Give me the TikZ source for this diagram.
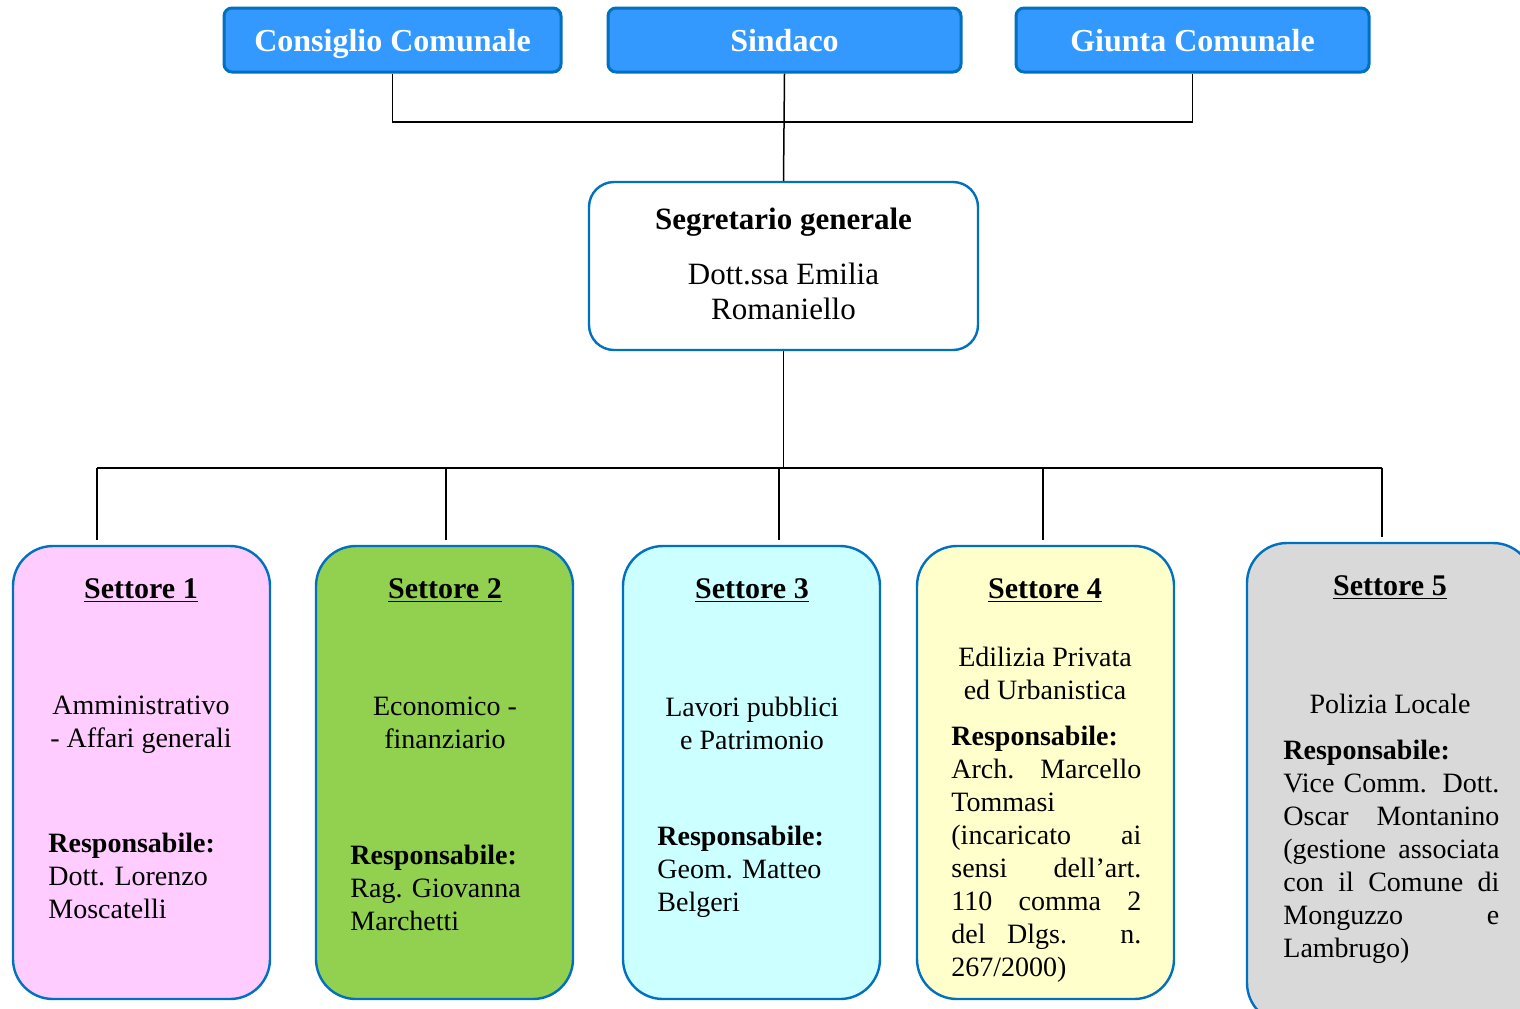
\documentclass[tikz,border=0pt]{standalone}
\usepackage{fontspec}
\setmainfont{Liberation Serif}
\usetikzlibrary{positioning}
\definecolor{bordo}{HTML}{0070C0}
\definecolor{azzurro}{HTML}{3399FF}
\definecolor{rosa}{HTML}{FFCCFF}
\definecolor{verde}{HTML}{92D050}
\definecolor{celeste}{HTML}{CCFFFF}
\definecolor{giallino}{HTML}{FFFFCC}
\definecolor{grigio}{HTML}{D9D9D9}
% one justified line of a fixed width
\newcommand{\giust}[2]{\makebox[#1][s]{#2}}
\tikzset{
    %Define style for the top boxes
    organo/.style={
           rectangle,
           rounded corners=4pt,
           draw=bordo, line width=1.5pt,
           fill=azzurro,
           text=white,
           text height=13pt, text depth=1.4pt,
           minimum width=176.5pt,
           minimum height=32pt,
           font=\fontsize{16}{19}\selectfont\bfseries},
    %Define style for the secretary box
    segretario/.style={
           rectangle,
           rounded corners=12.5pt,
           draw=bordo, line width=1.2pt,
           fill=white,
           minimum width=194.5pt,
           minimum height=84pt},
    %Define style for the sector boxes
    settore/.style={
           rectangle,
           rounded corners=20pt,
           draw=bordo, line width=1.2pt,
           minimum width=128.5pt,
           minimum height=226.5pt},
    % Define text styles
    titolo/.style={inner sep=0pt, font=\fontsize{15}{18}\selectfont\bfseries},
    testo/.style={inner sep=0pt, align=center, font=\fontsize{14}{16.5}\selectfont},
    resp/.style={inner sep=0pt, anchor=west, align=left, font=\fontsize{14}{16.5}\selectfont},
    % Define connector style
    linea/.style={draw=black, line width=0.75pt}
}

\begin{document}
\begin{tikzpicture}[x=0.5pt,y=-0.5pt]
  \useasboundingbox (0,0) rectangle (1520,1008);
  \clip (0,0) rectangle (1520,1008);
  % top level
  \node[organo, minimum width=168.5pt] (cons) at (392.5,40) {Consiglio Comunale};
  \node[organo] (sind) at (784.5,40) {Sindaco};
  \node[organo] (giunta) at (1192.5,40) {Giunta Comunale};
  % secretary
  \node[segretario] (segr) at (783.5,266) {};
  \node[titolo, font=\fontsize{15.5}{18}\selectfont\bfseries] (segrT) at (783.5,222) {Segretario generale};
  \node[testo, font=\fontsize{15.5}{17.5}\selectfont] (segrN) at (783.5,291) {Dott.ssa Emilia\\Romaniello};
  % sectors
  \node[settore, fill=rosa] (s1) at (141.5,772.5) {};
  \node[settore, fill=verde] (s2) at (444.5,772.5) {};
  \node[settore, fill=celeste] (s3) at (751.5,772.5) {};
  \node[settore, fill=giallino] (s4) at (1045.5,772.5) {};
  \node[settore, fill=grigio, minimum width=143pt, minimum height=240pt] (s5) at (1390,783) {};
  % sector texts
  \node[titolo] (t1) at (141,591) {\underline{Settore 1}};
  \node[testo] (d1) at (141,725) {Amministrativo\\- Affari generali};
  \node[resp] (r1) at (48,875.5) {\textbf{Responsabile:}\\Dott. Lorenzo\\Moscatelli};
  \node[titolo] (t2) at (445,591) {\underline{Settore 2}};
  \node[testo] (d2) at (445,723) {Economico -\\finanziario};
  \node[resp] (r2) at (350,888) {\textbf{Responsabile:}\\Rag. Giovanna\\Marchetti};
  \node[titolo] (t3) at (752,591) {\underline{Settore 3}};
  \node[testo] (d3) at (752,723) {Lavori pubblici\\e Patrimonio};
  \node[resp] (r3) at (657,871.5) {\textbf{Responsabile:}\\Geom. Matteo\\Belgeri};
  \node[titolo] (t4) at (1045,591) {\underline{Settore 4}};
  \node[testo] (d4) at (1045,673) {Edilizia Privata\\ed Urbanistica};
  \node[resp] (r4) at (951,854) {\textbf{Responsabile:}\\
    \giust{95pt}{Arch. Marcello}\\Tommasi\\
    \giust{95pt}{(incaricato ai}\\\giust{95pt}{sensi dell’art.}\\
    \giust{95pt}{110 comma 2}\\\giust{95pt}{del Dlgs. n.}\\267/2000)};
  \node[titolo] (t5) at (1390,588) {\underline{Settore 5}};
  \node[testo] (d5) at (1390,703.5) {Polizia Locale};
  \node[resp] (r5) at (1283,852) {\textbf{Responsabile:}\\
    \giust{108pt}{Vice Comm. Dott.}\\\giust{108pt}{Oscar Montanino}\\
    \giust{108pt}{(gestione associata}\\\giust{108pt}{con il Comune di}\\
    \giust{108pt}{Monguzzo e}\\Lambrugo)};
  % connectors
  \coordinate (busA) at (0,122);
  \coordinate (p1) at (97,468);
  \coordinate (p2) at (446,468);
  \coordinate (p3) at (779,468);
  \coordinate (p4) at (1043,468);
  \coordinate (p5) at (1382,468);
  \draw[linea] (cons.south) -- (cons.south |- busA) -- (giunta.south |- busA) -- (giunta.south);
  \draw[linea] (sind.south) -- (segr.north);
  \draw[linea] (segr.south) -- (segr.south |- p1);
  \draw[linea] (p1) -- (p5);
  \foreach \i in {1,...,5}
    \draw[linea] (p\i) -- ([yshift=2.5pt]p\i |- s\i.north);
\end{tikzpicture}
\end{document}
